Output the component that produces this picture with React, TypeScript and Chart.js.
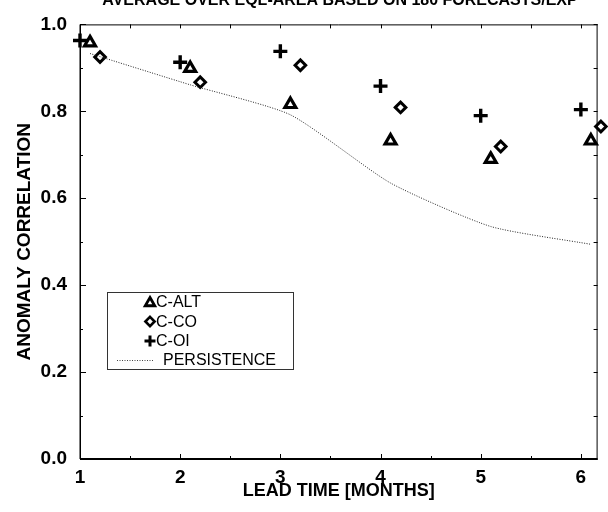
import React, { useEffect, useRef } from 'react';
import { Chart, registerables } from 'chart.js';

Chart.register(...registerables);

const TITLE = 'AVERAGE OVER EQL-AREA BASED ON 180 FORECASTS/EXP';
const X_TITLE = 'LEAD TIME [MONTHS]';
const Y_TITLE = 'ANOMALY CORRELATION';

const ALT_X = [1.1, 2.1, 3.1, 4.1, 5.1, 6.1];
const ALT_Y = [0.958, 0.899, 0.816, 0.732, 0.69, 0.732];
const CO_X = [1.2, 2.2, 3.2, 4.2, 5.2, 6.2];
const CO_Y = [0.925, 0.867, 0.906, 0.809, 0.719, 0.765];
const OI_X = [1, 2, 3, 4, 5, 6];
const OI_Y = [0.963, 0.913, 0.938, 0.858, 0.79, 0.804];
const PER_X = [1.1, 2.1, 3.1, 4.1, 5.1, 6.1];
const PER_Y = [0.933, 0.861, 0.792, 0.635, 0.535, 0.494];

const SERIES_LABELS = ['C-ALT', 'C-CO', 'C-OI', 'PERSISTENCE'];
const X_MIN = 1;
const X_MAX = 6.167;
const Y_MIN = 0;
const Y_MAX = 1;

const FONT = "'Liberation Sans', Arial, Helvetica, sans-serif";

const toPts = (xs: number[], ys: number[]) => xs.map((x, i) => ({ x, y: ys[i] }));

function drawMarker(ctx: CanvasRenderingContext2D, style: string, x: number, y: number, r: number, lw: number) {
  ctx.save();
  ctx.strokeStyle = '#000';
  ctx.lineWidth = lw;
  ctx.beginPath();
  if (style === 'triangle') {
    const a = Math.PI / 6;
    ctx.moveTo(x, y - r);
    ctx.lineTo(x + Math.cos(a) * r, y + Math.sin(a) * r);
    ctx.lineTo(x - Math.cos(a) * r, y + Math.sin(a) * r);
    ctx.closePath();
  } else if (style === 'rectRot') {
    ctx.moveTo(x, y - r);
    ctx.lineTo(x + r, y);
    ctx.lineTo(x, y + r);
    ctx.lineTo(x - r, y);
    ctx.closePath();
  } else if (style === 'cross') {
    ctx.moveTo(x - r, y);
    ctx.lineTo(x + r, y);
    ctx.moveTo(x, y - r);
    ctx.lineTo(x, y + r);
  }
  ctx.stroke();
  ctx.restore();
}

const decorPlugin = {
  id: 'decor',
  afterDatasetsDraw(chart: any) {
    const ctx: CanvasRenderingContext2D = chart.ctx;
    const { left, right, top, bottom } = chart.chartArea;
    const xs = chart.scales.x;
    const ys = chart.scales.y;
    ctx.save();
    // frame
    ctx.strokeStyle = '#000';
    ctx.lineWidth = 1;
    ctx.beginPath();
    ctx.moveTo(left, top + 0.5);
    ctx.lineTo(right, top + 0.5);
    ctx.moveTo(right - 0.5, top);
    ctx.lineTo(right - 0.5, bottom);
    ctx.stroke();
    ctx.lineWidth = 1.5;
    ctx.beginPath();
    ctx.moveTo(left + 0.25, top);
    ctx.lineTo(left + 0.25, bottom);
    ctx.stroke();
    ctx.lineWidth = 2;
    ctx.beginPath();
    ctx.moveTo(left, bottom);
    ctx.lineTo(right, bottom);
    ctx.stroke();

    // inward ticks
    ctx.lineWidth = 1;
    ctx.beginPath();
    for (let v = X_MIN; v <= X_MAX + 1e-9; v += 0.5) {
      const px = Math.round(xs.getPixelForValue(v)) + 0.5;
      const major = Math.abs(v - Math.round(v)) < 1e-6;
      ctx.moveTo(px, bottom);
      ctx.lineTo(px, bottom - (major ? 5 : 3));
      ctx.moveTo(px, top);
      ctx.lineTo(px, top + 4);
    }
    for (let i = 0; i <= 10; i++) {
      const v = Y_MIN + i * 0.1;
      const py = Math.round(ys.getPixelForValue(v)) + 0.5;
      const major = i % 2 === 0;
      ctx.moveTo(left, py);
      ctx.lineTo(left + (major ? 6 : 3), py);
      ctx.moveTo(right, py);
      ctx.lineTo(right - 4, py);
    }
    ctx.stroke();

    // title (top cropped)
    ctx.fillStyle = '#000';
    ctx.font = `bold 16px ${FONT}`;
    ctx.textAlign = 'center';
    ctx.textBaseline = 'alphabetic';
    ctx.fillText(TITLE, 340, 5);

    // legend box
    const bx = 107, by = 292, bw = 186, bh = 77;
    ctx.strokeStyle = '#333';
    ctx.lineWidth = 1;
    ctx.strokeRect(bx + 0.5, by + 0.5, bw, bh);
    const rows = [302, 321.5, 341, 360];
    const styles = ['triangle', 'rectRot', 'cross'];
    const sizes = [[5.5, 2.8], [4.6, 2.6], [5.5, 3]];
    ctx.font = `16px ${FONT}`;
    ctx.textAlign = 'left';
    ctx.textBaseline = 'middle';
    for (let i = 0; i < 3; i++) {
      drawMarker(ctx, styles[i], 150, rows[i] + (i === 0 ? 1 : 0), sizes[i][0], sizes[i][1]);
      ctx.fillText(SERIES_LABELS[i], 156, rows[i] + 1);
    }
    ctx.strokeStyle = '#444';
    ctx.setLineDash([1, 1.5]);
    ctx.beginPath();
    ctx.moveTo(117, rows[3] + 0.5);
    ctx.lineTo(153, rows[3] + 0.5);
    ctx.stroke();
    ctx.setLineDash([]);
    ctx.fillText(SERIES_LABELS[3], 163, rows[3] + 1);
    ctx.restore();
  },
};

export default function App() {
  const ref = useRef<HTMLCanvasElement | null>(null);
  useEffect(() => {
    if (!ref.current) return;
    const chart = new Chart(ref.current, {
      type: 'scatter',
      data: {
        datasets: [
          {
            label: SERIES_LABELS[3],
            data: toPts(PER_X, PER_Y),
            showLine: true,
            pointRadius: 0,
            borderColor: '#222',
            borderWidth: 1,
            borderDash: [1, 1.5],
            tension: 0.2,
          },
          {
            label: SERIES_LABELS[0],
            data: toPts(ALT_X, ALT_Y),
            pointStyle: 'triangle',
            pointRadius: 6.3,
            pointBorderWidth: 3.2,
            pointBorderColor: '#000',
            pointBackgroundColor: 'rgba(0,0,0,0)',
            clip: false,
          },
          {
            label: SERIES_LABELS[1],
            data: toPts(CO_X, CO_Y),
            pointStyle: 'rectRot',
            pointRadius: 5.3,
            pointBorderWidth: 3,
            pointBorderColor: '#000',
            pointBackgroundColor: 'rgba(0,0,0,0)',
            clip: false,
          },
          {
            label: SERIES_LABELS[2],
            data: toPts(OI_X, OI_Y),
            pointStyle: 'cross',
            pointRadius: 7,
            pointBorderWidth: 3.4,
            pointBorderColor: '#000',
            pointBackgroundColor: 'rgba(0,0,0,0)',
            clip: false,
          },
        ],
      } as any,
      options: {
        animation: false,
        responsive: false,
        devicePixelRatio: 1,
        layout: { padding: { top: 16, right: 1, left: 0, bottom: 0 } },
        plugins: {
          legend: { display: false },
          tooltip: { enabled: false },
          title: { display: false },
        },
        scales: {
          x: {
            type: 'linear',
            min: X_MIN,
            max: X_MAX,
            grid: { display: false, drawTicks: false },
            border: { display: false },
            ticks: {
              stepSize: 1,
              includeBounds: false,
              autoSkip: false,
              maxRotation: 0,
              padding: 7,
              color: '#000',
              font: { family: FONT, size: 19, weight: 'bold' },
              callback: (v: any) => (Number.isInteger(Number(v)) ? String(v) : ''),
            },
            title: {
              display: true,
              text: X_TITLE,
              color: '#000',
              font: { family: FONT, size: 18, weight: 'bold' },
              padding: { top: 0, bottom: 10 },
            },
            afterFit: (s: any) => {
              s.height = 53;
            },
          },
          y: {
            type: 'linear',
            min: Y_MIN,
            max: Y_MAX,
            grid: { display: false, drawTicks: false },
            border: { display: false },
            ticks: {
              stepSize: 0.2,
              padding: 13,
              color: '#000',
              font: { family: FONT, size: 19, weight: 'bold' },
              callback: (v: any) => Number(v).toFixed(1),
            },
            title: {
              display: true,
              text: Y_TITLE,
              color: '#000',
              font: { family: FONT, size: 19, weight: 'bold' },
              padding: { top: 13, bottom: 0 },
            },
            afterFit: (s: any) => {
              s.width = 80;
            },
          },
        },
      } as any,
      plugins: [decorPlugin],
    });
    return () => chart.destroy();
  }, []);
  return (
    <div style={{ position: 'absolute', left: 0, top: 0, width: 608, height: 512, overflow: 'hidden', background: '#fff' }}>
      <canvas ref={ref} width={608} height={512} style={{ display: 'block' }} />
    </div>
  );
}
